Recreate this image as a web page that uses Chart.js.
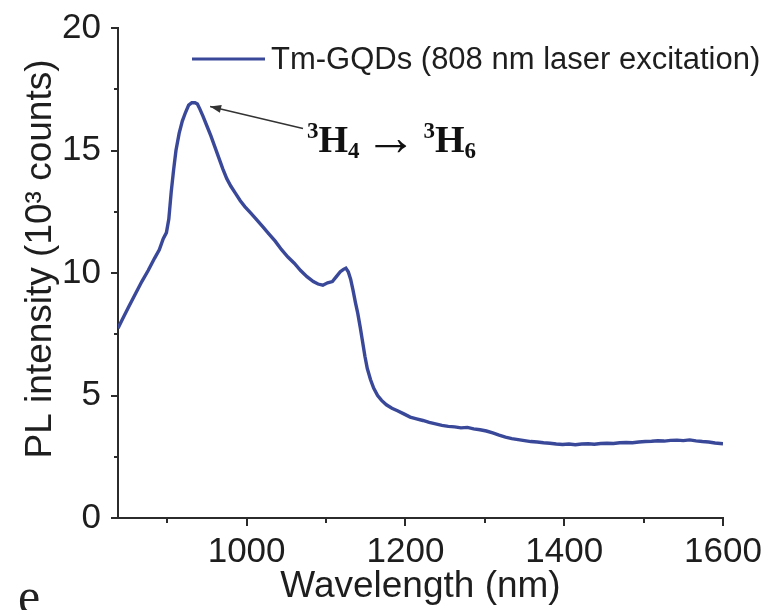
<!DOCTYPE html>
<html>
<head>
<meta charset="utf-8">
<script src="https://cdn.jsdelivr.net/npm/chart.js@4.4.0/dist/chart.umd.min.js"></script>
<style>
html,body{margin:0;padding:0;background:#fff;}
#wrap{width:769px;height:610px;}
</style>
</head>
<body>
<div id="wrap"><canvas id="c" width="769" height="610"></canvas></div>
<script>
// ---- data ----
const wavelengths = [838,845,852,860,868,876,884,890,895,899,902,905,908,911,915,919,923,927,931,935,938,941,945,950,955,960,965,970,975,980,986,992,998,1005,1012,1020,1028,1036,1044,1052,1060,1068,1076,1084,1090,1096,1102,1108,1113,1118,1122,1125,1128,1131,1134,1137,1140,1143,1146,1149,1152,1156,1160,1165,1170,1176,1183,1190,1198,1206,1214,1222,1230,1238,1246,1254,1262,1270,1278,1286,1294,1302,1310,1318,1326,1334,1342,1350,1358,1366,1374,1382,1390,1398,1406,1414,1422,1430,1438,1446,1454,1462,1470,1478,1486,1494,1502,1510,1518,1526,1534,1542,1550,1558,1566,1574,1582,1590,1600];
const intensity = [7.75,8.2,8.65,9.15,9.65,10.1,10.6,10.95,11.4,11.65,12.2,13.3,14.2,15.0,15.7,16.2,16.55,16.85,16.95,16.95,16.9,16.7,16.4,16.0,15.6,15.15,14.7,14.25,13.85,13.55,13.25,12.95,12.7,12.45,12.2,11.9,11.6,11.3,10.95,10.65,10.4,10.1,9.85,9.65,9.55,9.5,9.6,9.65,9.85,10.05,10.15,10.2,10.05,9.75,9.3,8.8,8.35,7.8,7.2,6.6,6.1,5.65,5.3,5.0,4.8,4.62,4.48,4.38,4.25,4.12,4.05,3.98,3.9,3.84,3.78,3.74,3.72,3.68,3.7,3.64,3.6,3.55,3.47,3.38,3.3,3.24,3.2,3.16,3.12,3.1,3.07,3.05,3.02,3.0,3.02,2.99,3.02,3.03,3.01,3.04,3.05,3.04,3.07,3.08,3.07,3.1,3.12,3.13,3.15,3.14,3.17,3.18,3.16,3.19,3.15,3.12,3.1,3.06,3.03];
const xMajorTicks = [1000,1200,1400,1600];
const xMinorTicks = [900,1100,1300,1500];
const yMajorTicks = [0,5,10,15,20];
const yMinorTicks = [2.5,7.5,12.5,17.5];
const seriesLabel = 'Tm-GQDs (808 nm laser excitation)';
const xTitle = 'Wavelength (nm)';
const yTitle = 'PL intensity (10\u00B3 counts)';
const panelLetter = 'e';

const LINE_COLOR = '#3a4899';
const AXIS_COLOR = '#2b2b2b';
const TEXT_COLOR = '#1e1e1e';
const SANS = "'Liberation Sans', Arial, Helvetica, sans-serif";
const SERIF = "'Liberation Serif', 'Times New Roman', serif";

const zeroPad = s => { s.paddingTop = 0; s.paddingBottom = 0; s.paddingLeft = 0; s.paddingRight = 0; };

const extras = {
  id: 'extras',
  afterDraw(chart) {
    const ctx = chart.ctx;
    const xs = chart.scales.x, ys = chart.scales.y;
    const area = chart.chartArea;
    ctx.save();
    // tick marks (outward)
    ctx.strokeStyle = AXIS_COLOR;
    ctx.lineWidth = 2;
    ctx.beginPath();
    xMajorTicks.forEach(v => { const p = Math.round(xs.getPixelForValue(v)); ctx.moveTo(p, area.bottom); ctx.lineTo(p, area.bottom + 8); });
    xMinorTicks.forEach(v => { const p = Math.round(xs.getPixelForValue(v)); ctx.moveTo(p, area.bottom); ctx.lineTo(p, area.bottom + 5); });
    yMajorTicks.forEach(v => { const p = Math.round(ys.getPixelForValue(v)); ctx.moveTo(area.left, p); ctx.lineTo(area.left - 7, p); });
    yMinorTicks.forEach(v => { const p = Math.round(ys.getPixelForValue(v)); ctx.moveTo(area.left, p); ctx.lineTo(area.left - 4, p); });
    ctx.stroke();

    // y axis title
    ctx.save();
    ctx.translate(41, (area.top + area.bottom) / 2 - 14);
    ctx.rotate(-Math.PI / 2);
    ctx.font = '37px ' + SANS;
    ctx.fillStyle = TEXT_COLOR;
    ctx.textAlign = 'center';
    ctx.textBaseline = 'middle';
    ctx.fillText(yTitle, 0, 0);
    ctx.restore();

    // legend
    const ds = chart.data.datasets[0];
    ctx.strokeStyle = ds.borderColor;
    ctx.lineWidth = 3;
    ctx.beginPath();
    ctx.moveTo(192, 59); ctx.lineTo(265, 59);
    ctx.stroke();
    ctx.fillStyle = TEXT_COLOR;
    ctx.font = '31px ' + SANS;
    ctx.textBaseline = 'middle';
    ctx.textAlign = 'left';
    ctx.fillText(ds.label, 271, 60);

    // annotation arrow, anchored in data coordinates
    const hx = xs.getPixelForValue(954), hy = ys.getPixelForValue(16.8);
    const tx = xs.getPixelForValue(1071), ty = ys.getPixelForValue(15.9);
    ctx.strokeStyle = '#333';
    ctx.fillStyle = '#333';
    ctx.lineWidth = 1.5;
    ctx.beginPath(); ctx.moveTo(tx, ty); ctx.lineTo(hx, hy); ctx.stroke();
    const ang = Math.atan2(hy - ty, hx - tx);
    const L = 11, W = 4;
    ctx.beginPath();
    ctx.moveTo(hx, hy);
    ctx.lineTo(hx - L * Math.cos(ang) + W * Math.sin(ang), hy - L * Math.sin(ang) - W * Math.cos(ang));
    ctx.lineTo(hx - L * Math.cos(ang) - W * Math.sin(ang), hy - L * Math.sin(ang) + W * Math.cos(ang));
    ctx.closePath(); ctx.fill();

    // transition label  3H4 -> 3H6
    let x = xs.getPixelForValue(1076);
    const base = ys.getPixelForValue(14.94);
    ctx.fillStyle = '#111';
    ctx.textBaseline = 'alphabetic';
    const big = 'bold 38px ' + SERIF, small = 'bold 23px ' + SERIF;
    const piece = (t, f, dy) => { ctx.font = f; ctx.fillText(t, x, base + dy); x += ctx.measureText(t).width; };
    piece('3', small, -14);
    piece('H', big, 0);
    piece('4', small, 6);
    x += 5;
    piece('\u2192', '52px ' + SERIF, 3);
    x += 7;
    piece('3', small, -14);
    piece('H', big, 0);
    piece('6', small, 6);

    // panel letter
    ctx.font = '50px ' + SERIF;
    ctx.fillStyle = '#222';
    ctx.fillText(panelLetter, 18, 613);
    ctx.restore();
  }
};

new Chart(document.getElementById('c'), {
  type: 'line',
  data: {
    datasets: [{
      label: seriesLabel,
      data: wavelengths.map((w, i) => ({ x: w, y: intensity[i] })),
      borderColor: LINE_COLOR,
      borderWidth: 3.4,
      pointRadius: 0,
      tension: 0,
      fill: false
    }]
  },
  options: {
    responsive: false,
    animation: false,
    layout: { padding: { top: 28, right: 46, left: 0, bottom: 0 } },
    plugins: { legend: { display: false }, tooltip: { enabled: false } },
    scales: {
      x: {
        type: 'linear',
        min: 838, max: 1600,
        afterBuildTicks: s => { s.ticks = xMajorTicks.map(v => ({ value: v })); },
        afterFit: s => { s.height = 92; zeroPad(s); },
        grid: { display: true, drawOnChartArea: false, drawTicks: true, tickLength: 13, tickColor: 'rgba(0,0,0,0)' },
        border: { display: true, color: AXIS_COLOR, width: 2 },
        ticks: { font: { family: SANS, size: 35 }, color: TEXT_COLOR, padding: 0, maxRotation: 0, autoSkip: false, callback: v => String(v) },
        title: { display: true, text: xTitle, font: { family: SANS, size: 37 }, color: TEXT_COLOR, padding: { top: 0, bottom: 1 } }
      },
      y: {
        min: 0, max: 20,
        afterBuildTicks: s => { s.ticks = yMajorTicks.map(v => ({ value: v })); },
        afterFit: s => { s.width = 118; zeroPad(s); },
        grid: { display: true, drawOnChartArea: false, drawTicks: true, tickLength: 17, tickColor: 'rgba(0,0,0,0)' },
        border: { display: true, color: AXIS_COLOR, width: 2 },
        ticks: { font: { family: SANS, size: 35 }, color: TEXT_COLOR, padding: 0, callback: v => String(v) }
      }
    }
  },
  plugins: [extras]
});
</script>
</body>
</html>
